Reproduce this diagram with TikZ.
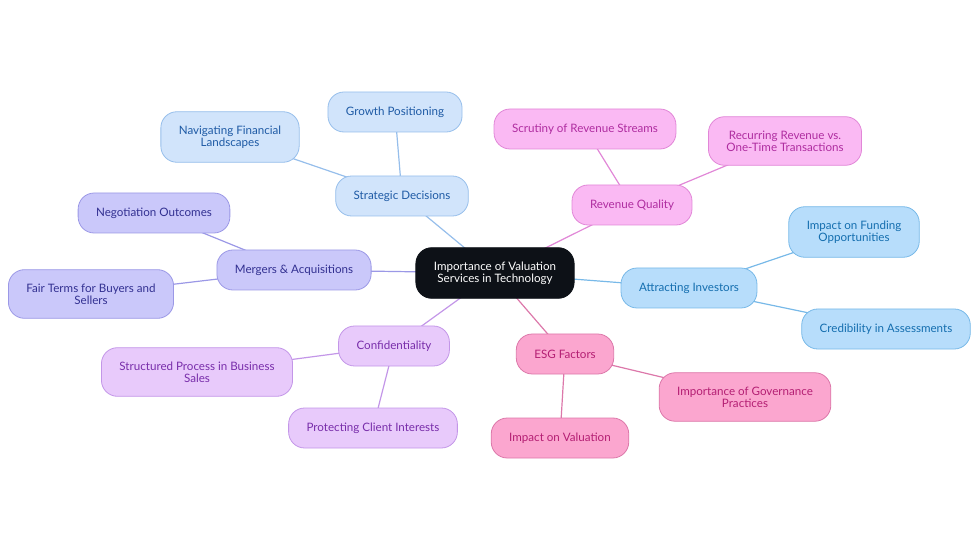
\documentclass[tikz,border=0pt]{standalone}
\usepackage{fontspec}
\setmainfont{Lato}
\usepackage{tikz}
\usetikzlibrary{backgrounds}
\definecolor{stratfill}{RGB}{209,228,251}
\definecolor{stratline}{RGB}{150,190,235}
\definecolor{strattext}{RGB}{30,90,165}
\definecolor{revfill}{RGB}{250,185,243}
\definecolor{revline}{RGB}{225,135,215}
\definecolor{revtext}{RGB}{175,45,160}
\definecolor{mafill}{RGB}{202,200,250}
\definecolor{maline}{RGB}{155,152,230}
\definecolor{matext}{RGB}{50,48,145}
\definecolor{invfill}{RGB}{183,221,251}
\definecolor{invline}{RGB}{120,185,232}
\definecolor{invtext}{RGB}{20,110,175}
\definecolor{conffill}{RGB}{232,202,251}
\definecolor{confline}{RGB}{195,150,232}
\definecolor{conftext}{RGB}{120,45,170}
\definecolor{esgfill}{RGB}{251,166,207}
\definecolor{esgline}{RGB}{220,120,170}
\definecolor{esgtext}{RGB}{180,30,115}
\definecolor{rootfill}{RGB}{13,17,23}

\begin{document}
\begin{tikzpicture}[x=1pt,y=-1pt,font=\fontsize{11.6}{12}\selectfont,
    topic/.style={draw,rounded corners=16pt,align=center,inner xsep=18pt,
      inner ysep=14pt,minimum height=40pt,line width=0.8pt},
    strat/.style={topic,fill=stratfill,draw=stratline,text=strattext},
    rev/.style={topic,fill=revfill,draw=revline,text=revtext},
    ma/.style={topic,fill=mafill,draw=maline,text=matext},
    inv/.style={topic,fill=invfill,draw=invline,text=invtext},
    conf/.style={topic,fill=conffill,draw=confline,text=conftext},
    esg/.style={topic,fill=esgfill,draw=esgline,text=esgtext},
    link/.style={line width=1.2pt}]
  \useasboundingbox (0,0) rectangle (980,553);
  % centre
  \node[topic,fill=rootfill,draw=rootfill,text=white,minimum height=50pt,
    inner xsep=18pt] (root) at (495,273) {Importance of Valuation\\Services in Technology};
  % strategic decisions
  \node[strat] (strat) at (402,196) {Strategic Decisions};
  \node[strat] (growth) at (395,112) {Growth Positioning};
  \node[strat] (navig) at (230,137) {Navigating Financial\\Landscapes};
  % revenue quality
  \node[rev] (rev) at (632,205) {Revenue Quality};
  \node[rev] (scrut) at (585,129) {Scrutiny of Revenue Streams};
  \node[rev] (recur) at (785,141) {Recurring Revenue vs.\\One-Time Transactions};
  % mergers
  \node[ma] (ma) at (294,270) {Mergers \& Acquisitions};
  \node[ma] (negot) at (154,213) {Negotiation Outcomes};
  \node[ma] (fair) at (91,294) {Fair Terms for Buyers and\\Sellers};
  % investors
  \node[inv] (inv) at (689,288) {Attracting Investors};
  \node[inv] (fund) at (854,232) {Impact on Funding\\Opportunities};
  \node[inv] (cred) at (886,329) {Credibility in Assessments};
  % confidentiality
  \node[conf] (conf) at (394,346) {Confidentiality};
  \node[conf] (struct) at (197,372) {Structured Process in Business\\Sales};
  \node[conf] (protect) at (373,428) {Protecting Client Interests};
  % esg
  \node[esg] (esg) at (565,354) {ESG Factors};
  \node[esg] (gov) at (745,397) {Importance of Governance\\Practices};
  \node[esg] (impval) at (560,438) {Impact on Valuation};
  % links behind the boxes
  \begin{scope}[on background layer]
    \draw[link,stratline] (root.center) -- (strat.center) -- (growth.center);
    \draw[link,stratline] (strat.center) -- (navig.center);
    \draw[link,revline] (root.center) -- (rev.center) -- (scrut.center);
    \draw[link,revline] (rev.center) -- (recur.center);
    \draw[link,maline] (root.center) -- (ma.center) -- (negot.center);
    \draw[link,maline] (ma.center) -- (fair.center);
    \draw[link,invline] (root.center) -- (inv.center) -- (fund.center);
    \draw[link,invline] (inv.center) -- (cred.center);
    \draw[link,confline] (root.center) -- (conf.center) -- (struct.center);
    \draw[link,confline] (conf.center) -- (protect.center);
    \draw[link,esgline] (root.center) -- (esg.center) -- (gov.center);
    \draw[link,esgline] (esg.center) -- (impval.center);
  \end{scope}
\end{tikzpicture}
\end{document}
